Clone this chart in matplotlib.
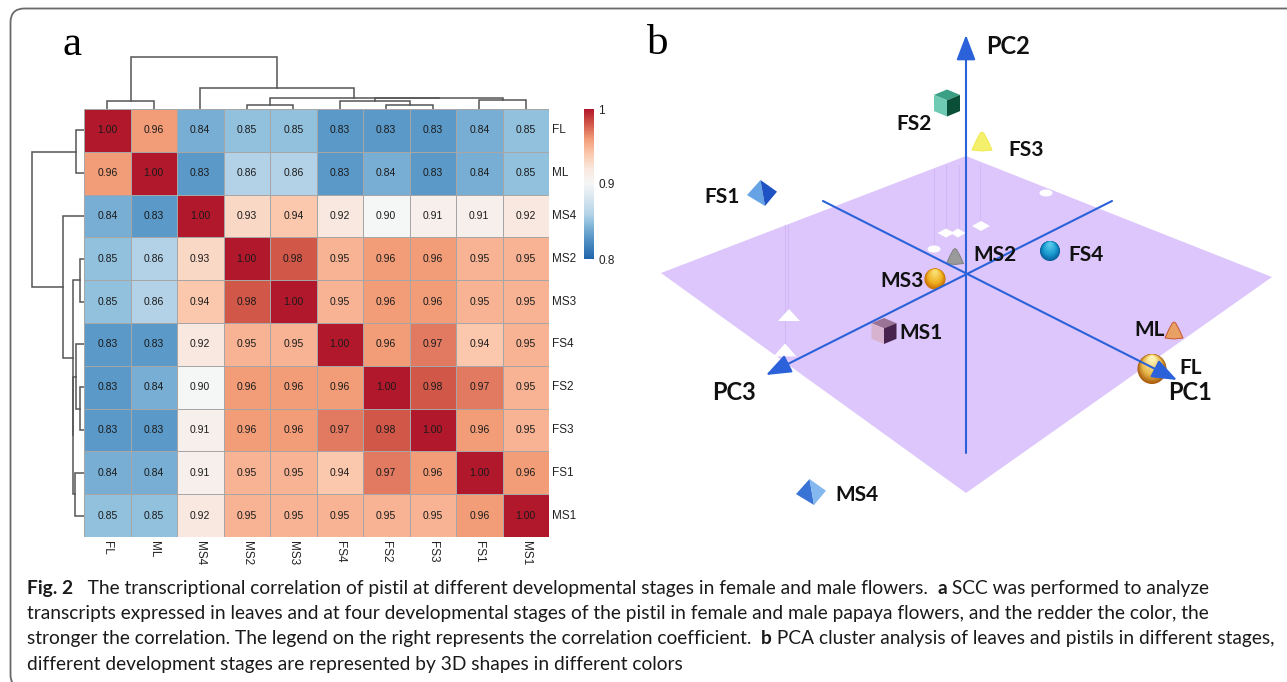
import numpy as np
from matplotlib import pyplot as plt
from matplotlib.colors import LinearSegmentedColormap, to_rgb
from matplotlib.patches import FancyBboxPatch, Polygon, Ellipse

W, H = 1287, 682

labels = ['FL', 'ML', 'MS4', 'MS2', 'MS3', 'FS4', 'FS2', 'FS3', 'FS1', 'MS1']
corr = [
    [1.00, 0.96, 0.84, 0.85, 0.85, 0.83, 0.83, 0.83, 0.84, 0.85],
    [0.96, 1.00, 0.83, 0.86, 0.86, 0.83, 0.84, 0.83, 0.84, 0.85],
    [0.84, 0.83, 1.00, 0.93, 0.94, 0.92, 0.90, 0.91, 0.91, 0.92],
    [0.85, 0.86, 0.93, 1.00, 0.98, 0.95, 0.96, 0.96, 0.95, 0.95],
    [0.85, 0.86, 0.94, 0.98, 1.00, 0.95, 0.96, 0.96, 0.95, 0.95],
    [0.83, 0.83, 0.92, 0.95, 0.95, 1.00, 0.96, 0.97, 0.94, 0.95],
    [0.83, 0.84, 0.90, 0.96, 0.96, 0.96, 1.00, 0.98, 0.97, 0.95],
    [0.83, 0.83, 0.91, 0.96, 0.96, 0.97, 0.98, 1.00, 0.96, 0.95],
    [0.84, 0.84, 0.91, 0.95, 0.95, 0.94, 0.97, 0.96, 1.00, 0.96],
    [0.85, 0.85, 0.92, 0.95, 0.95, 0.95, 0.95, 0.95, 0.96, 1.00],
]

# dendrogram: nodes 0-9 are leaves, each merge makes the next node id
merge_a = [0, 3, 6, 5, 8, 13, 11, 2, 10]
merge_b = [1, 4, 7, 12, 9, 14, 15, 16, 17]
merge_h = [8.3, 4.0, 4.3, 8.3, 8.7, 10.7, 11.3, 21.3, 52.3]

# PCA scene
plane_x = [966, 1272, 966, 661]
plane_y = [156, 277, 493, 273]
sample_names = ['FS2', 'FS3', 'FS1', 'MS2', 'FS4', 'MS3', 'MS1', 'ML', 'FL', 'MS4']
sample_x = [947, 982, 762, 955, 1050, 935, 884, 1174, 1152, 811]
sample_y = [103, 141, 193, 256, 251, 279, 331, 330, 369, 492]
shadow_x = [1046, 981, 946, 958, 934, 789, 785]
shadow_y = [193, 226, 233, 233, 249, 315, 350]

scale_pos = [0.80, 0.83, 0.85, 0.86, 0.90, 0.92, 0.94, 0.96, 0.98, 1.00]
scale_col = ['#2166ac', '#5b9ac8', '#94c2df', '#b5d3e7', '#f5f6f6',
             '#f9e8df', '#fbc9ae', '#f29d78', '#d2584a', '#b2182b']
cmap = LinearSegmentedColormap.from_list(
    'corr', [(round((p - 0.8) / 0.2, 4), c) for p, c in zip(scale_pos, scale_col)])

plt.rcParams['font.family'] = ['Liberation Sans', 'DejaVu Sans']
fig = plt.figure(figsize=(W / 100, H / 100), dpi=100)

# pixel axes for everything that is not the heatmap
ax = fig.add_axes([0, 0, 1, 1])
ax.set_xlim(0, W)
ax.set_ylim(H, 0)
ax.axis('off')

ax.add_patch(FancyBboxPatch((10.5, 8.5), W + 60, 680,
                            boxstyle='round,pad=0,rounding_size=14',
                            fc='white', ec='#6a6a6a', lw=1.3, zorder=0))


def pane(x0, y0, x1, y1):
    return fig.add_axes([x0 / W, 1 - y1 / H, (x1 - x0) / W, (y1 - y0) / H])


# heatmap
hx0, hx1, hy0, hy1 = 84, 549, 109, 537
hm = pane(hx0, hy0, hx1, hy1)
mesh = hm.pcolormesh(np.array(corr), cmap=cmap, vmin=0.8, vmax=1.0,
                     edgecolors='#a6a6a6', linewidth=0.7)
hm.set_xlim(0, 10)
hm.set_ylim(10, 0)
hm.axis('off')
for i, row in enumerate(corr):
    for j, v in enumerate(row):
        hm.text(j + 0.5, i + 0.5, f'{v:.2f}', ha='center', va='center',
                fontsize=7.5, color='#1a1a1a')

cw = (hx1 - hx0) / 10
ch = (hy1 - hy0) / 10
for i, name in enumerate(labels):
    ax.text(hx1 + 3, hy0 + (i + 0.5) * ch, name, ha='left', va='center',
            fontsize=8.5, color='#222222')
    ax.text(hx0 + (i + 0.5) * cw, hy1 + 4, name, ha='center', va='top',
            rotation=270, fontsize=8.5, color='#222222')


def dendrogram(pos0, step, draw):
    pos = {i: pos0 + (i + 0.5) * step for i in range(10)}
    height = {i: 0 for i in range(10)}
    for k, (a, b, h) in enumerate(zip(merge_a, merge_b, merge_h)):
        draw(pos[a], height[a], pos[b], height[b], h)
        pos[10 + k] = (pos[a] + pos[b]) / 2
        height[10 + k] = h


def draw_top(pa, ha, pb, hb, h):
    ax.plot([pa, pa, pb, pb], [hy0 - ha, hy0 - h, hy0 - h, hy0 - hb],
            color='#555555', lw=1.1, solid_joinstyle='miter')


def draw_left(pa, ha, pb, hb, h):
    ax.plot([hx0 - ha, hx0 - h, hx0 - h, hx0 - hb], [pa, pa, pb, pb],
            color='#555555', lw=1.1, solid_joinstyle='miter')


dendrogram(hx0, cw, draw_top)
dendrogram(hy0, ch, draw_left)

# colorbar
cax = pane(584, 109, 594, 259)
cb = fig.colorbar(mesh, cax=cax, ticks=[0.8, 0.9, 1.0])
cb.ax.set_yticklabels(['0.8', '0.9', '1'], fontsize=8.5, color='#222222')
cb.ax.tick_params(length=0, pad=3)
cb.outline.set_visible(False)

# panel letters
ax.text(62, 55, 'a', family='Liberation Serif', fontsize=31, ha='left', va='baseline')
ax.text(647, 54, 'b', family='Liberation Serif', fontsize=31, ha='left', va='baseline')

# panel b
ax.add_patch(Polygon(np.column_stack([plane_x, plane_y]), fc='#dcc6fb', ec='none', zorder=1))

for sx, y0, y1 in [(934, 170, 245), (946, 165, 230), (959, 165, 230),
                   (980, 165, 222), (785, 225, 348), (788, 225, 312)]:
    ax.plot([sx, sx], [y0, y1], color='#d2b8f5', lw=0.8, zorder=1.2)

shadow_kind = ['o', 'D', 'D', 'D', 'o', '^', '^']
shadow_w = [13, 18, 17, 15, 13, 22, 23]
shadow_h = [7, 10, 9, 9, 7, 12, 13]
for x, y, k, w, h in zip(shadow_x, shadow_y, shadow_kind, shadow_w, shadow_h):
    if k == 'o':
        ax.add_patch(Ellipse((x, y), w, h, fc='white', ec='none', zorder=1.5))
    elif k == 'D':
        ax.add_patch(Polygon([(x - w / 2, y), (x, y - h / 2), (x + w / 2, y), (x, y + h / 2)],
                             fc='white', ec='none', zorder=1.5))
    else:
        ax.add_patch(Polygon([(x - w / 2, y + h / 2), (x, y - h / 2), (x + w / 2, y + h / 2)],
                             fc='white', ec='none', zorder=1.5))


def cube(x, y, w, h, top, left, right):
    d = h * 0.2
    ax.add_patch(Polygon([(x - w / 2, y - h / 2 + d), (x, y - h / 2), (x + w / 2, y - h / 2 + d), (x, y - h / 2 + 2 * d)],
                         fc=top, ec='none', zorder=3))
    ax.add_patch(Polygon([(x - w / 2, y - h / 2 + d), (x, y - h / 2 + 2 * d), (x, y + h / 2), (x - w / 2, y + h / 2 - d)],
                         fc=left, ec='none', zorder=3))
    ax.add_patch(Polygon([(x + w / 2, y - h / 2 + d), (x, y - h / 2 + 2 * d), (x, y + h / 2), (x + w / 2, y + h / 2 - d)],
                         fc=right, ec='none', zorder=3))


def sphere(x, y, w, h, light, mid, dark):
    light, mid, dark = np.array(to_rgb(light)), np.array(to_rgb(mid)), np.array(to_rgb(dark))
    for t in np.linspace(0, 1, 30):
        if t < 0.4:
            c = dark + (mid - dark) * t / 0.4
        else:
            c = mid + (light - mid) * (t - 0.4) / 0.6
        ax.add_patch(Ellipse((x, y - 0.34 * h * t), w * (1 - 0.8 * t), h * (1 - 0.8 * t),
                             fc=c, ec='none', zorder=3))


def cone(x, y, w, h, fill, edge):
    ax.add_patch(Polygon([(x - w / 2, y + h / 2), (x - w * 0.3, y), (x - w * 0.1, y - h * 0.42), (x, y - h / 2),
                          (x + w * 0.1, y - h * 0.42), (x + w * 0.3, y), (x + w / 2, y + h / 2), (x, y + h / 2 + 1)],
                         fc=fill, ec=edge, lw=0.7, joinstyle='round', zorder=3))


def pyramid(x, y, w, h, front, side):
    top = (x - w * 0.05, y - h / 2)
    ax.add_patch(Polygon([top, (x - w / 2, y + h * 0.08), (x + w * 0.1, y + h / 2)], fc=front, ec='none', zorder=3))
    ax.add_patch(Polygon([top, (x + w / 2, y - h * 0.05), (x + w * 0.1, y + h / 2)], fc=side, ec='none', zorder=3))


pos = dict(zip(sample_names, zip(sample_x, sample_y)))
cube(*pos['FS2'], 26, 27, '#3a9f85', '#6fcab3', '#0b4f38')
cone(*pos['FS3'], 20, 18, '#f5f06c', '#f0e94e')
pyramid(*pos['FS1'], 30, 26, '#66a3e4', '#1f52c2')
cone(*pos['MS2'], 17, 15, '#9a9a9a', '#808080')
sphere(*pos['FS4'], 20, 20, '#55c6e8', '#1899cf', '#0a5f9e')
sphere(*pos['MS3'], 21, 21, '#f8dc6e', '#f0b020', '#c96f05')
cube(*pos['MS1'], 25, 26, '#9a7395', '#d8b3cf', '#47234e')
cone(*pos['ML'], 18, 16, '#e9a065', '#c8552a')
sphere(*pos['FL'], 29, 30, '#fdf0b0', '#e8b84a', '#a85a0c')
pyramid(*pos['MS4'], 30, 26, '#3a73d6', '#84b8ee')

blue = '#2b62d9'
for start, tip in [((966, 453), (966, 35)), ((823, 201), (1177, 380)), ((1112, 201), (766, 375))]:
    ax.annotate('', xy=tip, xytext=start, zorder=4,
                arrowprops=dict(arrowstyle='-|>,head_length=1.1,head_width=0.42', color=blue,
                                lw=1.5, shrinkA=0, shrinkB=0, mutation_scale=14))

names = ['PC2', 'PC1', 'PC3']
name_x = [986, 1168, 712]
name_y = [47, 393, 392]
for n, x, y in zip(names, name_x, name_y):
    ax.text(x, y, n, family='Lato', weight='bold', fontsize=17, ha='left', va='center', zorder=5, color='#111111')

text_x = [896, 1008, 704, 973, 1068, 880, 899, 1134, 1179, 835]
text_y = [124, 150, 197, 255, 255, 281, 333, 330, 368, 495]
for n, x, y in zip(sample_names, text_x, text_y):
    ax.text(x, y, n, family='Lato', weight='bold', fontsize=15, ha='left', va='center', zorder=5, color='#111111')

# caption, set as runs of regular and bold text
caption = [
    (27, 594, [('Fig. 2', True), ('   The transcriptional correlation of pistil at different developmental stages in female and male flowers. ', False),
               ('a', True), (' SCC was performed to analyze', False)]),
    (27, 619, [('transcripts expressed in leaves and at four developmental stages of the pistil in female and male papaya flowers, and the redder the color, the', False)]),
    (27, 644, [('stronger the correlation. The legend on the right represents the correlation coefficient. ', False), ('b', True),
               (' PCA cluster analysis of leaves and pistils in different stages,', False)]),
    (27, 670, [('different development stages are represented by 3D shapes in different colors', False)]),
]
fig.canvas.draw()
renderer = fig.canvas.get_renderer()
for x, y, runs in caption:
    for s, bold in runs:
        t = ax.text(x, y, s, family='Lato', fontsize=13.75, weight='bold' if bold else 'normal',
                    ha='left', va='baseline', color='#1a1a1a')
        x += t.get_window_extent(renderer).width
        if s.endswith(' '):
            x += 4.5

fig.savefig('out.png', dpi=100)
